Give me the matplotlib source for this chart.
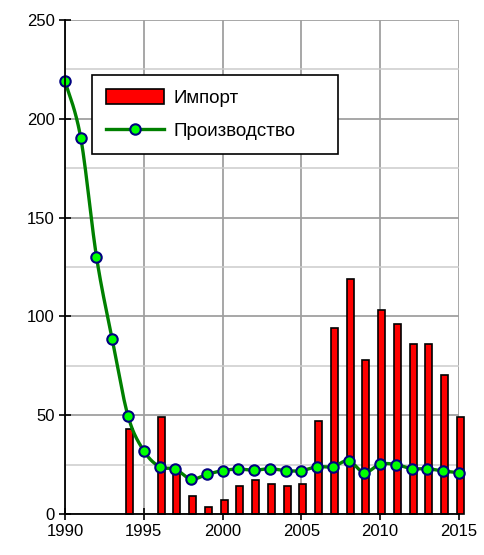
import matplotlib.pyplot as plt
import numpy as np
from matplotlib.ticker import MultipleLocator

plt.rcParams["font.family"] = ["Liberation Sans", "DejaVu Sans"]

years = list(range(1990, 2016))
imports = [0, 0, 0, 0, 42.8, 0, 49.1, 22.2, 8.9, 3.7, 7.0, 14.0, 17.3, 15.2,
           14.0, 15.2, 46.9, 94.2, 118.9, 77.7, 103.4, 96.2, 85.9, 85.9, 70.5, 49.1]
production = [219.0, 190.4, 130.1, 88.3, 49.6, 32.0, 23.9, 22.7, 17.6, 20.0,
              21.9, 22.7, 22.1, 22.9, 21.9, 21.9, 23.9, 23.9, 26.9, 20.9,
              25.2, 25.0, 22.9, 22.9, 21.7, 20.9]


def smooth(x, y, n=20):
    # Catmull-Rom curve through the points, like a spreadsheet "smoothed line"
    x, y = np.asarray(x, float), np.asarray(y, float)
    px = np.concatenate([[x[0]], x, [x[-1]]])
    py = np.concatenate([[y[0]], y, [y[-1]]])
    t = np.linspace(0, 1, n, endpoint=False)[:, None]
    out_x, out_y = [], []
    for i in range(1, len(px) - 2):
        for p, out in ((px, out_x), (py, out_y)):
            p0, p1, p2, p3 = p[i - 1], p[i], p[i + 1], p[i + 2]
            seg = 0.5 * ((2 * p1) + (-p0 + p2) * t
                         + (2 * p0 - 5 * p1 + 4 * p2 - p3) * t ** 2
                         + (-p0 + 3 * p1 - 3 * p2 + p3) * t ** 3)
            out.extend(seg.ravel())
    out_x.append(x[-1])
    out_y.append(y[-1])
    return out_x, out_y


fig = plt.figure(figsize=(4.85, 5.55), dpi=100)
ax = fig.add_axes([0.134, 0.074, 0.812, 0.89])

bar_years = [y + 0.1 for y, v in zip(years, imports) if v > 0]
bar_vals = [v for v in imports if v > 0]
bars = ax.bar(bar_years, bar_vals, width=0.45, color="#FF0000", edgecolor="black",
              linewidth=1.2, zorder=3, clip_on=False, label="Импорт")

sx, sy = smooth(years, production)
ax.plot(sx, sy, color="#008000", lw=2.4, zorder=4, solid_capstyle="round")
ax.plot(years, production, ls="none", marker="o", ms=7.5, mfc="#00FF00",
        mec="#000080", mew=1.5, zorder=5, clip_on=False)

ax.set_xlim(1990, 2015)
ax.set_ylim(0, 250)
ax.xaxis.set_major_locator(MultipleLocator(5))
ax.yaxis.set_major_locator(MultipleLocator(50))
ax.yaxis.set_minor_locator(MultipleLocator(25))
ax.grid(which="major", color="#a0a0a0", lw=1.3, zorder=0)
ax.grid(which="minor", axis="y", color="#cccccc", lw=1.1, zorder=0)
ax.set_axisbelow(True)
ax.tick_params(which="major", direction="inout", length=8, width=1.2,
               labelsize=12, colors="black")
ax.tick_params(which="minor", length=0)
for s in ("top", "right"):
    ax.spines[s].set_visible(False)
for s in ("left", "bottom"):
    ax.spines[s].set_linewidth(1.3)
    ax.spines[s].set_zorder(6)

prod_handle, = ax.plot([], [], color="#008000", lw=2.4, marker="o", ms=7.5,
                       mfc="#00FF00", mec="#000080", mew=1.5, label="Производство")
leg = ax.legend(handles=[bars, prod_handle], loc="upper left", mode="expand",
                bbox_to_anchor=(0.069, 0.888, 0.624, 0.0), fontsize=13.5,
                fancybox=False, framealpha=1, edgecolor="black",
                handlelength=3.1, handleheight=0.8, borderpad=0.75,
                labelspacing=0.8, handletextpad=0.5, borderaxespad=0)
leg.get_frame().set_linewidth(1.2)
leg.set_zorder(7)

fig.savefig("out.png", dpi=100)
